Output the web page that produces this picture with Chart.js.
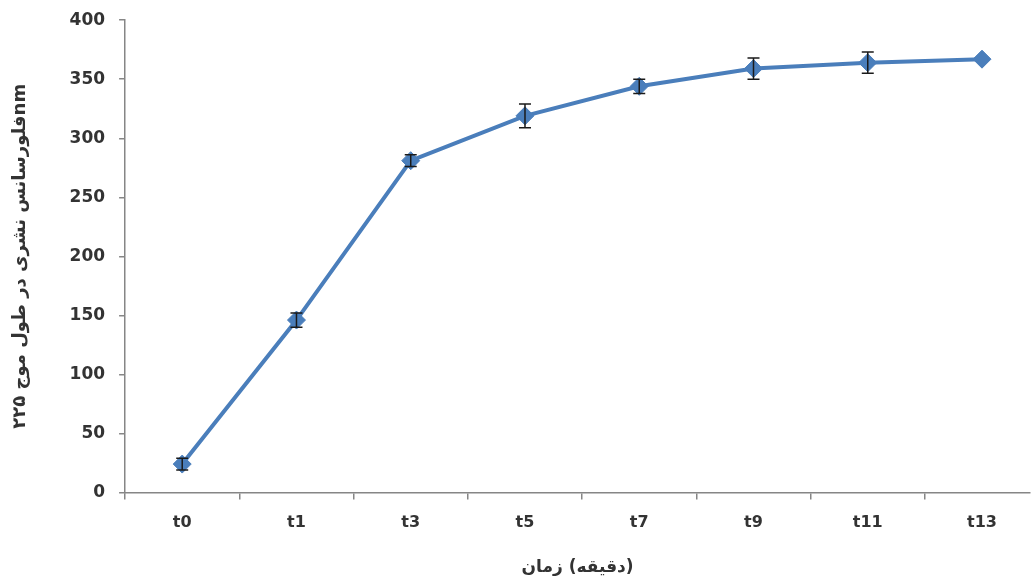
<!DOCTYPE html>
<html>
<head>
<meta charset="utf-8">
<script src="https://cdn.jsdelivr.net/npm/chart.js@4.4.0/dist/chart.umd.min.js"></script>
<style>
html,body{margin:0;padding:0;background:#fff;overflow:hidden;}
#wrap{width:1040px;height:584px;margin-top:-4px;position:relative;}
#c{display:block;}
</style>
</head>
<body>
<div id="wrap"><canvas id="c" width="1040" height="584"></canvas></div>
<script>
const categories = ['t0','t1','t3','t5','t7','t9','t11','t13'];
const values = [24, 146, 281, 319, 344, 359, 364, 367];
const errors = [5, 6, 5, 10, 6, 9, 9, 0];
const yTicks = [0, 50, 100, 150, 200, 250, 300, 350, 400];
const yTitle = 'فلورسانس نشری در طول موج ۲۲۵nm';
const xTitle = 'زمان\u200E (دقیقه)\u200E';

const points = values.map((v, i) => ({ x: i, y: v }));

const errorBars = {
  id: 'errorBars',
  afterDatasetsDraw(chart) {
    const ctx = chart.ctx, xs = chart.scales.x, ys = chart.scales.y;
    ctx.save();
    ctx.strokeStyle = '#1a1a1a';
    ctx.lineWidth = 1.5;
    values.forEach((v, i) => {
      const e = errors[i];
      if (!e) return;
      const x = xs.getPixelForValue(i);
      const y1 = ys.getPixelForValue(v + e), y2 = ys.getPixelForValue(v - e);
      ctx.beginPath();
      ctx.moveTo(x, y1); ctx.lineTo(x, y2);
      ctx.moveTo(x - 6, y1); ctx.lineTo(x + 6, y1);
      ctx.moveTo(x - 6, y2); ctx.lineTo(x + 6, y2);
      ctx.stroke();
    });
    ctx.restore();
  }
};

new Chart(document.getElementById('c'), {
  type: 'line',
  data: {
    datasets: [{
      data: points,
      borderColor: '#4A7EBB',
      backgroundColor: '#4A7EBB',
      pointBorderColor: '#4A7EBB',
      borderWidth: 4,
      pointStyle: 'rectRot',
      pointRadius: 9,
      pointHoverRadius: 9,
      pointBorderWidth: 1,
      tension: 0
    }]
  },
  options: {
    responsive: false,
    animation: false,
    events: [],
    layout: { padding: { top: 8, right: 0, left: 10, bottom: 2 } },
    plugins: { legend: { display: false }, tooltip: { enabled: false } },
    scales: {
      x: {
        type: 'linear',
        min: -0.5,
        max: 7.42,
        afterBuildTicks(scale) { scale.ticks = categories.map((c, i) => ({ value: i })); },
        afterFit(scale) { scale.paddingRight = 0; scale.paddingLeft = 0; },
        grid: { offset: true, drawOnChartArea: false, drawTicks: true, tickLength: 7, color: '#868686', lineWidth: 1.5 },
        border: { color: '#868686', width: 1.5 },
        ticks: { autoSkip: false, maxRotation: 0, color: '#333', font: { family: 'DejaVu Sans', size: 16, weight: 'bold' }, padding: 14,
                 callback: (v, i) => categories[i] },
        title: { display: true, text: xTitle, color: '#333', font: { family: 'DejaVu Sans', size: 17, weight: 'bold' }, padding: { top: 11, bottom: 0 } }
      },
      y: {
        min: 0, max: 400,
        afterBuildTicks(scale) { scale.ticks = yTicks.map(v => ({ value: v })); },
        grid: { drawOnChartArea: false, drawTicks: true, tickLength: 6, color: '#868686', lineWidth: 1.5 },
        border: { color: '#868686', width: 1.5 },
        ticks: { color: '#333', font: { family: 'DejaVu Sans', size: 17, weight: 'bold' }, padding: 14 },
        title: { display: true, text: yTitle, color: '#333', font: { family: 'DejaVu Sans', size: 18, weight: 'bold' }, padding: { top: 0, bottom: 24 } }
      }
    }
  },
  plugins: [errorBars]
});
</script>
</body>
</html>
